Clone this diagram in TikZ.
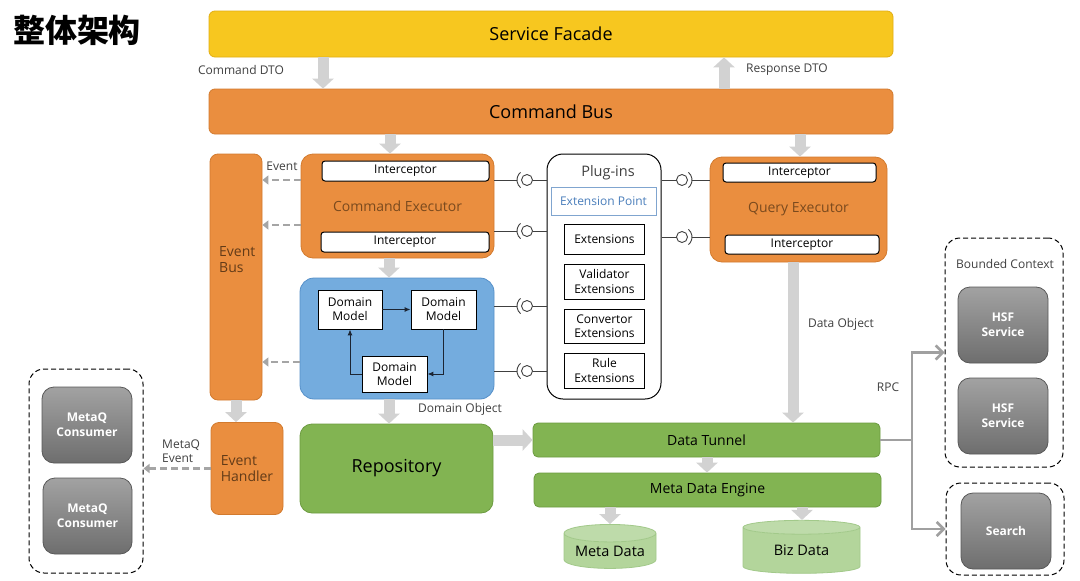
\documentclass[tikz,border=0pt]{standalone}
\usepackage{fontspec}
\setmainfont{Open Sans}
\newfontfamily\cjkfont{Noto Sans CJK SC}
\usetikzlibrary{arrows.meta,shapes.geometric,calc}

\definecolor{facadeyellow}{HTML}{F7C71F}
\definecolor{facadeedge}{HTML}{E2AE12}
\definecolor{busorange}{HTML}{EA8E3F}
\definecolor{busedge}{HTML}{D27A2E}
\definecolor{execbrown}{HTML}{7A4A1E}
\definecolor{domainblue}{HTML}{74ACDE}
\definecolor{domainedge}{HTML}{5690C9}
\definecolor{repogreen}{HTML}{82B452}
\definecolor{repoedge}{HTML}{6C9B40}
\definecolor{storegreen}{HTML}{B3D59B}
\definecolor{storeedge}{HTML}{A2C98A}
\definecolor{fatgray}{HTML}{D2D2D2}
\definecolor{dashgray}{HTML}{A5A5A5}
\definecolor{rpcgray}{HTML}{A0A0A0}
\definecolor{pointblue}{HTML}{4A7EBB}
\definecolor{consumertop}{HTML}{A2A2A2}
\definecolor{consumerbot}{HTML}{6E6E6E}
\definecolor{labelgray}{HTML}{404040}
\definecolor{arrowdark}{HTML}{1C2533}

\tikzset{
	boxsize/.style 2 args={minimum width=#1pt, minimum height=#2pt},
	basebox/.style={inner sep=0pt, align=center, line width=0.8pt},
	facadestyle/.style={basebox, rounded corners=6pt, fill=facadeyellow, draw=facadeedge, font=\fontsize{18pt}{21pt}\selectfont},
	busstyle/.style={basebox, rounded corners=6pt, fill=busorange, draw=busedge, font=\fontsize{18pt}{21pt}\selectfont},
	execstyle/.style={basebox, rounded corners=12pt, fill=busorange, draw=busedge, text=execbrown, font=\fontsize{14pt}{17pt}\selectfont},
	handlerstyle/.style={basebox, rounded corners=8pt, fill=busorange, draw=busedge, text=execbrown!80!black, align=left, font=\fontsize{14pt}{16pt}\selectfont},
	interceptorstyle/.style={basebox, rounded corners=3pt, fill=white, draw=black, line width=1pt, font=\fontsize{12pt}{14pt}\selectfont},
	domainstyle/.style={basebox, rounded corners=14pt, fill=domainblue, draw=domainedge},
	modelstyle/.style={basebox, fill=white, draw=black, line width=0.9pt, font=\fontsize{12pt}{14pt}\selectfont},
	pluginstyle/.style={basebox, rounded corners=16pt, fill=white, draw=black, line width=1pt},
	extstyle/.style={basebox, fill=white, draw=black, line width=0.9pt, font=\fontsize{12pt}{14.5pt}\selectfont},
	pointstyle/.style={basebox, fill=white, draw=pointblue!70, line width=1pt, text=pointblue, font=\fontsize{12pt}{14pt}\selectfont},
	greenstyle/.style={basebox, rounded corners=5pt, fill=repogreen, draw=repoedge, font=\fontsize{14pt}{16pt}\selectfont},
	repostyle/.style={basebox, rounded corners=12pt, fill=repogreen, draw=repoedge, font=\fontsize{18pt}{21pt}\selectfont},
	storestyle/.style={cylinder, shape border rotate=90, aspect=0.25, inner sep=0pt, draw=storeedge, line width=0.8pt,
		cylinder uses custom fill, cylinder body fill=storegreen, cylinder end fill=storegreen!85!white, font=\fontsize{14.5pt}{16pt}\selectfont},
	grouplstyle/.style={draw=black, line width=1pt, dash pattern=on 5pt off 3pt, rounded corners=15pt},
	servicestyle/.style={basebox, rounded corners=12pt, top color=consumertop, bottom color=consumerbot, draw=consumerbot!80!black,
		text=white, font=\fontsize{12pt}{15pt}\selectfont\bfseries},
	labelstyle/.style={inner sep=0pt, text=labelgray, font=\fontsize{12pt}{14pt}\selectfont},
	fatarrow/.style={draw=fatgray, line width=11pt, -{Triangle[length=10pt,width=21pt]}},
	evarrow/.style={draw=dashgray, line width=2.5pt, dash pattern=on 7pt off 4pt, -{Triangle[length=6pt,width=9pt]}},
	modelarrow/.style={draw=arrowdark, line width=1pt, -{Latex[length=6pt,width=5pt]}},
	rpcline/.style={draw=rpcgray, line width=2.5pt},
	rpcarrow/.style={rpcline, -{Straight Barb[length=7pt,width=14pt]}},
	lollipop/.style={draw=black!75, line width=0.9pt}
}

\begin{document}
\begin{tikzpicture}[x=1pt, y=-1pt]

\useasboundingbox[fill=white] (0,0) rectangle (1080,581);

\node[inner sep=0pt, font=\cjkfont\fontsize{32pt}{36pt}\selectfont\bfseries] (title) at (77,30) {整体架构};

\node[facadestyle, boxsize={684}{46}] (facade) at (551,34) {Service Facade};
\node[busstyle, boxsize={684}{45}] (cmdbus) at (551,111.5) {Command Bus};

\node[handlerstyle, boxsize={52}{246}] (ebus) at (236,277) {};
\node[inner sep=0pt, anchor=west, align=left, text=execbrown!80!black, font=\fontsize{14pt}{16pt}\selectfont] (ebustext) at (219,260) {Event\\Bus};
\node[handlerstyle, boxsize={72}{92}] (ehandler) at (247,468.5) {Event\\Handler};

\node[execstyle, boxsize={193}{104}] (cexec) at (397.5,206) {Command Executor};
\node[interceptorstyle, boxsize={167}{20}] (cint1) at (405.5,171) {Interceptor};
\node[interceptorstyle, boxsize={168}{20}] (cint2) at (405,242) {Interceptor};

\node[domainstyle, boxsize={194}{121}] (dbox) at (397,338.5) {};
\node[modelstyle, boxsize={64}{39}] (dm1) at (350,309.5) {Domain\\Model};
\node[modelstyle, boxsize={65}{39}] (dm2) at (443.5,309.5) {Domain\\Model};
\node[modelstyle, boxsize={65}{36}] (dm3) at (394.5,374) {Domain\\Model};

\node[pluginstyle, boxsize={114}{245}] (plugins) at (604,276.5) {};
\node[inner sep=0pt, text=labelgray, font=\fontsize{14.5pt}{17pt}\selectfont] (pluginstitle) at (608,173) {Plug-ins};
\node[pointstyle, boxsize={105}{28}] (extpoint) at (603.5,201) {Extension Point};
\node[extstyle, boxsize={80}{30}] (ext1) at (604.5,239) {Extensions};
\node[extstyle, boxsize={80}{35}] (ext2) at (604.5,281.5) {Validator\\Extensions};
\node[extstyle, boxsize={80}{34}] (ext3) at (604.5,326) {Convertor\\Extensions};
\node[extstyle, boxsize={80}{35}] (ext4) at (604.5,370.5) {Rule\\Extensions};

\node[execstyle, boxsize={177}{105}] (qexec) at (798.5,209.5) {Query Executor};
\node[interceptorstyle, boxsize={153}{19}] (qint1) at (799.5,172.5) {Interceptor};
\node[interceptorstyle, boxsize={154}{19}] (qint2) at (802,244.5) {Interceptor};

\node[repostyle, boxsize={193}{89}] (repo) at (396.5,468.5) {Repository};
\node[greenstyle, boxsize={347}{34}] (tunnel) at (706.5,440) {Data Tunnel};
\node[greenstyle, boxsize={347}{34}] (engine) at (707.5,490) {Meta Data Engine};
\node[storestyle, boxsize={92}{44}] (metadata) at (610,551) {Meta Data};
\node[storestyle, boxsize={117}{53}] (bizdata) at (801.5,550.5) {Biz Data};

\node[grouplstyle, boxsize={114}{204}] (metaqgroup) at (86,471) {};
\node[servicestyle, boxsize={90}{76}] (consumer1) at (87,425) {MetaQ\\Consumer};
\node[servicestyle, boxsize={89}{76}] (consumer2) at (87.5,516) {MetaQ\\Consumer};

\node[grouplstyle, boxsize={118}{229}] (bctx) at (1004,352.5) {};
\node[labelstyle] (bctxtitle) at (1005,264) {Bounded Context};
\node[servicestyle, boxsize={90}{76}] (hsf1) at (1003,325) {HSF\\Service};
\node[servicestyle, boxsize={90}{76}] (hsf2) at (1003,416) {HSF\\Service};
\node[grouplstyle, boxsize={118}{92}] (searchgroup) at (1005,529) {};
\node[servicestyle, boxsize={90}{76}] (search) at (1006,531) {Search};

\node[labelstyle] (cmddto) at (241,70) {Command DTO};
\node[labelstyle] (respdto) at (787,70) {Response DTO};
\node[labelstyle] (eventlbl) at (282,166) {Event};
\node[labelstyle] (dataobj) at (841,324) {Data Object};
\node[labelstyle] (domainobj) at (460,409) {Domain Object};
\node[labelstyle, anchor=west, align=left] (metaqevent) at (162,451) {MetaQ\\Event};
\node[labelstyle] (rpclbl) at (888,387) {RPC};

\draw[fatarrow] (facade.south -| 323,0) -- (cmdbus.north -| 323,0);
\draw[fatarrow] (cmdbus.north -| 724,0) -- (facade.south -| 724,0);
\draw[fatarrow] (cmdbus.south -| 390,0) -- (cexec.north -| 390,0);
\draw[fatarrow] (cmdbus.south -| 800,0) -- (qexec.north -| 800,0);
\draw[fatarrow] (cexec.south -| 389,0) -- (dbox.north -| 389,0);
\draw[fatarrow] (dbox.south -| 389,0) -- (repo.north -| 389,0);
\draw[fatarrow] (ebus.south) -- (ehandler.north -| ebus.south);
\draw[fatarrow] (qexec.south -| 793,0) -- (tunnel.north -| 793,0);
\draw[fatarrow] (repo.east |- tunnel.west) -- (tunnel.west);
\draw[fatarrow] (tunnel.south -| 707,0) -- (engine.north -| 707,0);
\draw[fatarrow] (engine.south -| 610,0) -- (metadata.north -| 610,0);
\draw[fatarrow] (engine.south -| 802,0) -- (bizdata.north -| 802,0);

\draw[evarrow] (cexec.west |- 0,180) -- (ebus.east |- 0,180);
\draw[evarrow] (cexec.west |- 0,225) -- (ebus.east |- 0,225);
\draw[evarrow] (dbox.west |- 0,362) -- (ebus.east |- 0,362);
\draw[evarrow] (ehandler.west) -- (metaqgroup.east |- ehandler.west);

\draw[modelarrow] (dm1) -- (dm2);
\draw[modelarrow] (dm2.south) |- (dm3.east);
\draw[modelarrow] (dm3.west) -| (dm1.south);

\draw[lollipop] (cexec.east |- 0,180) -- (517,180);
\draw[lollipop] (527,180) ++(130:10pt) arc[start angle=130, end angle=230, radius=10pt];
\draw[lollipop] (527,180) circle[radius=5.5pt];
\draw[lollipop] (532.5,180) -- (plugins.west |- 0,180);

\draw[lollipop] (cexec.east |- 0,231) -- (517,231);
\draw[lollipop] (527,231) ++(130:10pt) arc[start angle=130, end angle=230, radius=10pt];
\draw[lollipop] (527,231) circle[radius=5.5pt];
\draw[lollipop] (532.5,231) -- (plugins.west |- 0,231);

\draw[lollipop] (dbox.east |- 0,306) -- (517,306);
\draw[lollipop] (527,306) ++(130:10pt) arc[start angle=130, end angle=230, radius=10pt];
\draw[lollipop] (527,306) circle[radius=5.5pt];
\draw[lollipop] (532.5,306) -- (plugins.west |- 0,306);

\draw[lollipop] (dbox.east |- 0,371) -- (517,371);
\draw[lollipop] (527,371) ++(130:10pt) arc[start angle=130, end angle=230, radius=10pt];
\draw[lollipop] (527,371) circle[radius=5.5pt];
\draw[lollipop] (532.5,371) -- (plugins.west |- 0,371);

\draw[lollipop] (plugins.east |- 0,180) -- (676.5,180);
\draw[lollipop] (682,180) circle[radius=5.5pt];
\draw[lollipop] (682,180) ++(-50:10pt) arc[start angle=-50, end angle=50, radius=10pt];
\draw[lollipop] (692,180) -- (qexec.west |- 0,180);

\draw[lollipop] (plugins.east |- 0,237) -- (676.5,237);
\draw[lollipop] (682,237) circle[radius=5.5pt];
\draw[lollipop] (682,237) ++(-50:10pt) arc[start angle=-50, end angle=50, radius=10pt];
\draw[lollipop] (692,237) -- (qexec.west |- 0,237);

\coordinate (rpcsplit) at (912,440);
\draw[rpcline] (tunnel.east) -- (rpcsplit);
\draw[rpcarrow] (rpcsplit) |- (bctx.west);
\draw[rpcarrow] (rpcsplit) |- (searchgroup.west);

\end{tikzpicture}
\end{document}
